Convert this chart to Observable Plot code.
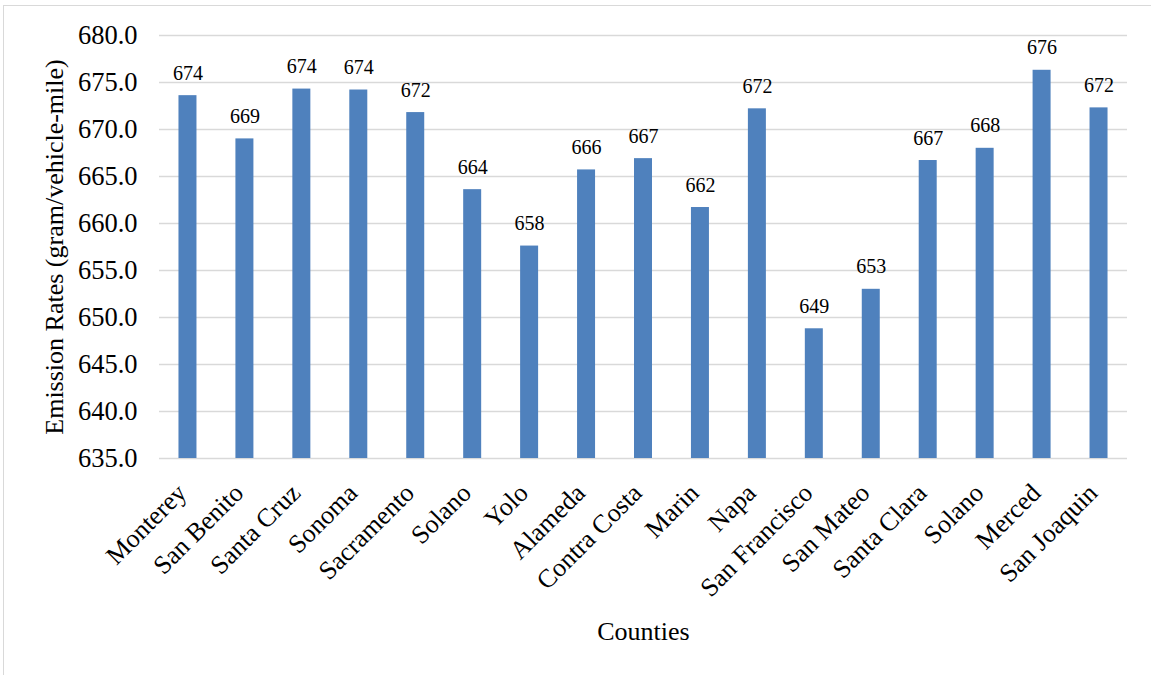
<!DOCTYPE html>
<html>
<head>
<meta charset="utf-8">
<script src="https://cdn.jsdelivr.net/npm/d3@7"></script>
<script src="https://cdn.jsdelivr.net/npm/@observablehq/plot@0.6"></script>
<style>
  html, body { margin: 0; padding: 0; background: #fff; }
  #chart { position: relative; width: 1151px; height: 675px; overflow: hidden; }
  #frame { position: absolute; left: 3px; top: 5px; width: 1200px; height: 700px;
           border: 1px solid #d9d9d9; box-sizing: border-box; pointer-events: none; }
  #chart svg { position: absolute; left: 0; top: 0; }
  #chart svg text { font-family: 'Liberation Serif', 'Times New Roman', serif; }
</style>
</head>
<body>
<div id="chart"><div id="frame"></div></div>
<script>
// County names in chart order (Solano appears twice in the source table)
const counties = [
  "Monterey", "San Benito", "Santa Cruz", "Sonoma", "Sacramento", "Solano",
  "Yolo", "Alameda", "Contra Costa", "Marin", "Napa", "San Francisco",
  "San Mateo", "Santa Clara", "Solano", "Merced", "San Joaquin"
];
// Emission rates, gram/vehicle-mile
const emissionRates = [
  673.6, 669.0, 674.3, 674.2, 671.8, 663.6,
  657.6, 665.7, 666.9, 661.7, 672.2, 648.8,
  653.0, 666.7, 668.0, 676.3, 672.3
];
// Value axis ticks
const yTicks = [635, 640, 645, 650, 655, 660, 665, 670, 675, 680];

const yTitle = "Emission Rates (gram/vehicle-mile)";
const xTitle = "Counties";

// Bars are keyed by position so that both Solano entries stay separate
const idx = d3.range(counties.length);
const rows = idx.map(i => ({i, county: counties[i], value: emissionRates[i]}));
const yMin = yTicks[0];
const yMax = yTicks[yTicks.length - 1];

const font = "'Liberation Serif', 'Times New Roman', serif";

const chart = Plot.plot({
  width: 1151,
  height: 675,
  marginTop: 35,
  marginBottom: 217,
  marginLeft: 159,
  marginRight: 24,
  style: {fontFamily: font, color: "#000", background: "transparent", overflow: "visible"},
  x: {domain: idx, paddingInner: 0.684, paddingOuter: 0.342, round: false, axis: null},
  y: {domain: [yMin, yMax], axis: null},
  marks: [
    Plot.ruleY(yTicks, {stroke: "#d9d9d9", strokeWidth: 1.3}),
    Plot.axisY({
      ticks: yTicks, tickFormat: d3.format(".1f"), tickSize: 0, tickPadding: 22,
      fontSize: 26.5, fontFamily: font, label: null, fill: "#000"
    }),
    Plot.barY(rows, {x: "i", y1: yMin, y2: "value", fill: "#4f81bd"}),
    Plot.text(rows, {
      x: "i", y: "value", text: d => d3.format(".0f")(d.value),
      lineAnchor: "bottom", dy: -16, fontSize: 20, fontFamily: font, fill: "#000"
    }),
    Plot.text(idx, {
      x: d => d, text: d => counties[d], frameAnchor: "bottom",
      rotate: -45, textAnchor: "end", lineAnchor: "bottom",
      dy: 36, fontSize: 26, fontFamily: font, fill: "#000"
    }),
    Plot.text([yTitle], {
      frameAnchor: "left", rotate: -90, textAnchor: "middle", lineAnchor: "bottom",
      dx: -97, fontSize: 26, fontFamily: font, fill: "#000"
    }),
    Plot.text([xTitle], {
      frameAnchor: "bottom", textAnchor: "middle", lineAnchor: "bottom",
      dy: 181, fontSize: 26, fontFamily: font, fill: "#000"
    })
  ]
});

document.getElementById("chart").appendChild(chart);
</script>
</body>
</html>
